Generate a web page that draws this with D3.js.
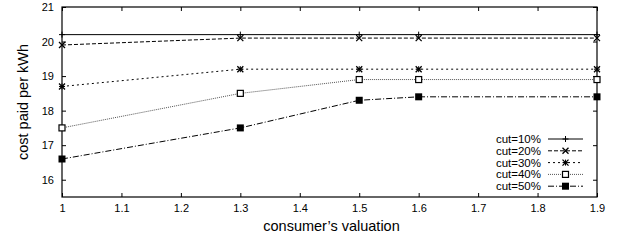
<!DOCTYPE html>
<html>
<head>
<meta charset="utf-8">
<script src="https://cdn.jsdelivr.net/npm/d3@7"></script>
<style>
  body { margin: 0; background: #fff; }
  text { font-family: "Liberation Sans", Arial, sans-serif; fill: #000; }
</style>
</head>
<body>
<div id="chart"></div>
<script>
// data
var valuations = [1, 1.3, 1.5, 1.6, 1.9];
var cut10 = [20.2, 20.2, 20.2, 20.2, 20.2];
var cut20 = [19.9, 20.1, 20.1, 20.1, 20.1];
var cut30 = [18.7, 19.2, 19.2, 19.2, 19.2];
var cut40 = [17.5, 18.5, 18.9, 18.9, 18.9];
var cut50 = [16.6, 17.5, 18.3, 18.4, 18.4];
var seriesNames = ["cut=10%", "cut=20%", "cut=30%", "cut=40%", "cut=50%"];
var xTicks = [1, 1.1, 1.2, 1.3, 1.4, 1.5, 1.6, 1.7, 1.8, 1.9];
var yTicks = [16, 17, 18, 19, 20, 21];

var svgWidth = 626, svgHeight = 242;
var margin = { top: 7, right: 29, bottom: 45, left: 62 };
var width = svgWidth - margin.left - margin.right;
var height = svgHeight - margin.top - margin.bottom;

var svg = d3.select("#chart").append("svg")
  .attr("width", svgWidth)
  .attr("height", svgHeight)
  .append("g")
  .attr("transform", `translate(${margin.left}, ${margin.top})`);

var x = d3.scaleLinear().domain([1, 1.9]).range([0, width]);
var y = d3.scaleLinear().domain([15.5, 21]).range([height, 0]);

// axes, ticks pointing inward, mirrored on top/right
function styleAxis(g) {
  g.select(".domain").remove();
  g.selectAll("line").attr("stroke", "#000");
  g.selectAll("text").attr("font-size", 11);
}
svg.append("g").attr("transform", `translate(0,${height})`)
  .call(d3.axisBottom(x).tickValues(xTicks).tickSize(-4).tickPadding(7).tickFormat(d3.format("")))
  .call(styleAxis);
svg.append("g")
  .call(d3.axisTop(x).tickValues(xTicks).tickSize(-4).tickFormat(""))
  .call(styleAxis);
svg.append("g")
  .call(d3.axisLeft(y).tickValues(yTicks).tickSize(-4).tickPadding(8).tickFormat(d3.format("")))
  .call(styleAxis);
svg.append("g").attr("transform", `translate(${width},0)`)
  .call(d3.axisRight(y).tickValues(yTicks).tickSize(-4).tickFormat(""))
  .call(styleAxis);

svg.append("rect")
  .attr("width", width).attr("height", height)
  .attr("fill", "none").attr("stroke", "#000").attr("stroke-width", 1.2);

// axis labels
svg.append("text")
  .attr("transform", "rotate(-90)")
  .attr("x", -height / 2).attr("y", -34)
  .attr("text-anchor", "middle").attr("font-size", 14.5)
  .text("cost paid per kWh");
svg.append("text")
  .attr("x", width / 2 + 2).attr("y", height + 34)
  .attr("text-anchor", "middle").attr("font-size", 14.5)
  .text("consumer\u2019s valuation");

var series = [cut10, cut20, cut30, cut40, cut50];
var dashes = ["none", "4,2", "2,3", "1,1", "6,2,1,2"];
var strokes = ["#000", "#000", "#000", "#555", "#000"];
var markers = ["plus", "cross", "star", "box", "fbox"];

function drawMarker(g, type, cx, cy) {
  var s = 3;
  var m = g.append("g").attr("transform", `translate(${cx},${cy})`);
  if (type == "plus" || type == "star") {
    m.append("path").attr("d", `M${-s},0H${s}M0,${-s}V${s}`).attr("stroke", "#000").attr("stroke-width", 1);
  }
  if (type == "cross" || type == "star") {
    m.append("path").attr("d", `M${-s},${-s}L${s},${s}M${-s},${s}L${s},${-s}`).attr("stroke", "#000").attr("stroke-width", 1.3);
  }
  if (type == "box") {
    m.append("rect").attr("x", -3).attr("y", -3).attr("width", 6).attr("height", 6)
      .attr("fill", "#fff").attr("stroke", "#000").attr("stroke-width", 1.2);
  }
  if (type == "fbox") {
    m.append("rect").attr("x", -3.5).attr("y", -3.5).attr("width", 7).attr("height", 7).attr("fill", "#000");
  }
}

var line = d3.line().x(d => x(d[0])).y(d => y(d[1]));

series.forEach(function(vals, i) {
  var pts = valuations.map((v, j) => [v, vals[j]]);
  svg.append("path")
    .datum(pts)
    .attr("d", line)
    .attr("fill", "none")
    .attr("stroke", strokes[i])
    .attr("stroke-width", 1)
    .attr("stroke-dasharray", dashes[i]);
  pts.forEach(p => drawMarker(svg, markers[i], x(p[0]), y(p[1])));
});

// legend
var legX = 541 - margin.left, legY = 139 - margin.top, legStep = 11.8;
seriesNames.forEach(function(name, i) {
  var ly = legY + i * legStep;
  svg.append("text")
    .attr("x", legX).attr("y", ly).attr("dy", "0.35em")
    .attr("text-anchor", "end").attr("font-size", 11.5)
    .text(name);
  svg.append("line")
    .attr("x1", legX + 7).attr("x2", legX + 42)
    .attr("y1", ly).attr("y2", ly)
    .attr("stroke", strokes[i]).attr("stroke-width", 1)
    .attr("stroke-dasharray", dashes[i]);
  drawMarker(svg, markers[i], legX + 24.5, ly);
});
</script>
</body>
</html>
